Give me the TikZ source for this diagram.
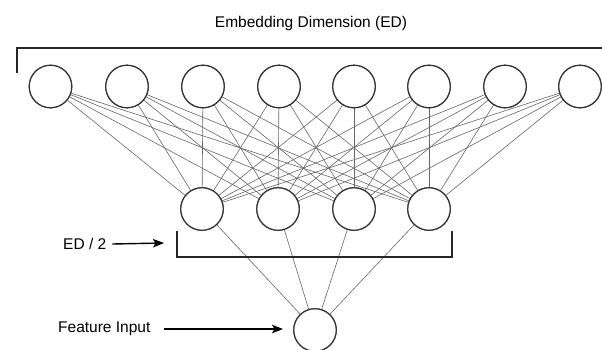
\documentclass[tikz,border=0pt]{standalone}
\usepackage{fontspec}
\setmainfont{Liberation Sans}
\usetikzlibrary{arrows.meta}
\begin{document}
\begin{tikzpicture}[x=1pt,y=-1pt,
  neuron/.style={circle,draw=black!80,fill=white,line width=1.2pt,minimum size=42.5pt,inner sep=0pt},
  conn/.style={draw=black!60,line width=0.6pt},
  bracketline/.style={draw=black!85,line width=1.3pt},
  lbl/.style={font=\fontsize{15.5}{18}\selectfont,inner sep=0pt},
  arr/.style={-{Stealth[length=11pt,width=8.5pt,inset=2.5pt]},line width=1.4pt}]
\useasboundingbox (0,0) rectangle (602,349);
% title
\node[lbl] (title) at (311,23) {Embedding Dimension (ED)};
% top bracket
\draw[bracketline] (17,73) -- (17,48) -- (602,48);
% top layer
\foreach \i/\x in {1/50.5,2/127,3/203,4/279,5/354,6/429,7/505,8/580}
  \node[neuron] (t\i) at (\x,86.5) {};
% middle layer
\foreach \j/\x in {1/202,2/278,3/354,4/429}
  \node[neuron] (m\j) at (\x,209) {};
% bottom
\node[neuron] (b) at (315,330) {};
% connections
\foreach \i in {1,...,8}
  \foreach \j in {1,...,4}
    \draw[conn] (t\i) -- (m\j);
\foreach \j in {1,...,4}
  \draw[conn] (m\j) -- (b);
% redraw nodes on top
\foreach \i/\x in {1/50.5,2/127,3/203,4/279,5/354,6/429,7/505,8/580}
  \node[neuron] at (\x,86.5) {};
\foreach \j/\x in {1/202,2/278,3/354,4/429}
  \node[neuron] at (\x,209) {};
\node[neuron] at (315,330) {};
% middle bracket
\draw[bracketline] (177,231) -- (177,257) -- (452,257) -- (452,231);
% labels
\node[lbl,anchor=west] (ed) at (63,244) {ED / 2};
\node[lbl,anchor=west] (fi) at (58,329) {Feature Input};
\coordinate (edtip) at (164,243);
\coordinate (fitip) at (283,329);
\draw[arr] ([xshift=6pt]ed.east) -- (edtip);
\draw[arr] ([xshift=13pt]fi.east) -- (fitip);
\end{tikzpicture}
\end{document}
